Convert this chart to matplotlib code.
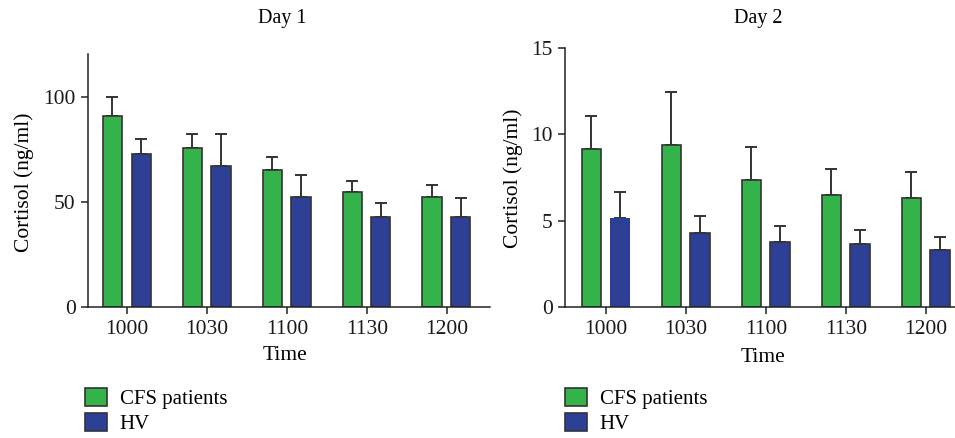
import matplotlib
matplotlib.use("Agg")
import matplotlib.pyplot as plt
from matplotlib.patches import Patch
import numpy as np

plt.rcParams["font.family"] = ["Liberation Serif", "DejaVu Serif"]
plt.rcParams["font.size"] = 15

# data
times = ["1000", "1030", "1100", "1130", "1200"]
day1_cfs = [91.1, 75.5, 65.2, 54.7, 52.5]
day1_cfs_err = [8.9, 7.0, 6.3, 5.4, 5.8]
day1_hv = [72.7, 67.1, 52.5, 42.9, 42.9]
day1_hv_err = [7.4, 15.4, 10.5, 6.7, 8.9]
day2_cfs = [9.13, 9.38, 7.37, 6.49, 6.33]
day2_cfs_err = [1.93, 3.05, 1.90, 1.48, 1.47]
day2_hv = [5.17, 4.29, 3.75, 3.65, 3.32]
day2_hv_err = [1.49, 0.96, 0.94, 0.79, 0.73]

green = "#33b34a"
blue = "#2e3f96"
edge = "#333333"

W, H = 955, 438
fig = plt.figure(figsize=(W / 100, H / 100), dpi=100)


def panel(rect, cfs, cfs_err, hv, hv_err, ylim, yticks, xlim, hv_edges):
    ax = fig.add_axes(rect)
    x = np.arange(len(times))
    ax.bar(x - 0.185, cfs, width=0.24, color=green, edgecolor=edge, linewidth=1.2, zorder=2)
    ax.bar(x + 0.175, hv, width=0.24, color=blue, edgecolor=hv_edges, linewidth=1.2, zorder=2)
    ekw = dict(fmt="none", ecolor=edge, elinewidth=1.4, capsize=4.5, capthick=1.4, zorder=1)
    ax.errorbar(x - 0.185, cfs, yerr=[np.zeros(len(cfs)), cfs_err], **ekw)
    ax.errorbar(x + 0.175, hv, yerr=[np.zeros(len(hv)), hv_err], **ekw)
    ax.set_xlim(*xlim)
    ax.set_ylim(*ylim)
    ax.set_xticks(x)
    ax.set_xticklabels(times)
    ax.set_yticks(yticks)
    ax.spines["top"].set_visible(False)
    ax.spines["right"].set_visible(False)
    for s in ("left", "bottom"):
        ax.spines[s].set_linewidth(1.1)
        ax.spines[s].set_color("#222222")
    ax.tick_params(direction="out", length=5, width=1.1, colors="#222222",
                   labelcolor="#1a1a1a", labelsize=15.5, pad=4)
    return ax


ax1 = panel([88 / W, 1 - 307 / H, 402 / W, 253 / H],
            day1_cfs, day1_cfs_err, day1_hv, day1_hv_err,
            (0, 120.5), [0, 50, 100], (-0.49, 4.54), [edge] * 5)
ax2 = panel([565 / W, 1 - 307 / H, 390 / W, 259 / H],
            day2_cfs, day2_cfs_err, day2_hv, day2_hv_err,
            (0, 15), [0, 5, 10, 15], (-0.5125, 4.3625), ["none"] + [edge] * 4)

# titles and labels
fig.text(282 / W, 1 - 18 / H, "Day 1", ha="center", va="center", fontsize=14.5)
fig.text(758 / W, 1 - 18 / H, "Day 2", ha="center", va="center", fontsize=14.5)
fig.text(24 / W, 1 - 182 / H, "Cortisol (ng/ml)", rotation=90, ha="center", va="center", fontsize=15.5)
fig.text(513 / W, 1 - 178 / H, "Cortisol (ng/ml)", rotation=90, ha="center", va="center", fontsize=15.5)
fig.text(285 / W, 1 - 356 / H, "Time", ha="center", va="center", fontsize=15.5)
fig.text(763 / W, 1 - 357 / H, "Time", ha="center", va="center", fontsize=15.5)

# legends
handles = [Patch(facecolor=green, edgecolor=edge, linewidth=1.2, label="CFS patients"),
           Patch(facecolor=blue, edgecolor=edge, linewidth=1.2, label="HV")]
for lx in (85, 565):
    fig.legend(handles=handles, loc="upper left", bbox_to_anchor=(lx / W, 1 - 388 / H),
               frameon=False, fontsize=15, handlelength=1.05, handleheight=0.95,
               handletextpad=0.62, labelspacing=0.2, borderpad=0, borderaxespad=0)

fig.savefig("out.png", dpi=100)
